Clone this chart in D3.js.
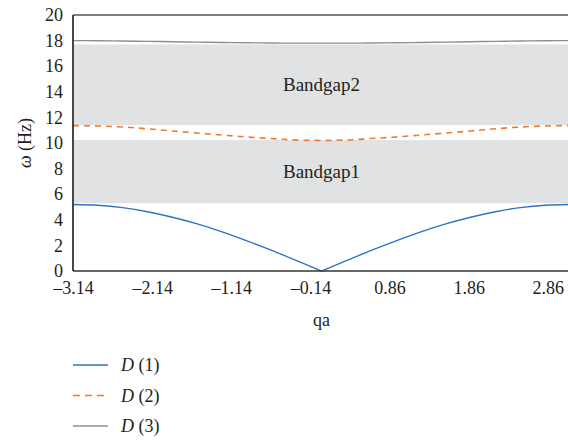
<!DOCTYPE html>
<html><head><meta charset="utf-8">
<script src="https://cdn.jsdelivr.net/npm/d3@7"></script>
<style>
html,body{margin:0;padding:0;background:#fff;}
svg text{fill:#231f20;}
</style></head>
<body><svg id="c" width="568" height="440"></svg>
<script>
const qValues = [-3.14,-2.826,-2.512,-2.198,-1.884,-1.57,-1.256,-0.942,-0.628,-0.314,0,0.314,0.628,0.942,1.256,1.57,1.884,2.198,2.512,2.826,3.14];
const d1Values = [5.2,5.14,4.95,4.63,4.2,3.68,3.06,2.36,1.61,0.81,0,0.81,1.61,2.36,3.06,3.68,4.2,4.63,4.95,5.14,5.2];
const d2Values = [11.36,11.33,11.25,11.11,10.94,10.78,10.62,10.47,10.35,10.23,10.2,10.23,10.35,10.47,10.62,10.78,10.94,11.11,11.25,11.33,11.36];
const d3Values = [18.0,17.99,17.97,17.94,17.91,17.88,17.85,17.83,17.81,17.8,17.8,17.8,17.81,17.83,17.85,17.88,17.91,17.94,17.97,17.99,18.0];
const seriesNames = ["(1)","(2)","(3)"];
const bandgaps = [{name:"Bandgap1", lo:5.3, hi:10.23},{name:"Bandgap2", lo:11.4, hi:17.7}];
const xTicks = [-3.14,-2.14,-1.14,-0.14,0.86,1.86,2.86];
const yTicks = [0,2,4,6,8,10,12,14,16,18,20];

const FONT = "Liberation Serif";
const FS = 18;
const svg = d3.select("#c");
const L=73, R=570, T=15, B=271;
const x = d3.scaleLinear().domain([-3.14,3.14]).range([L,R]);
const y = d3.scaleLinear().domain([0,20]).range([B,T]);
const fmt = v => v<0 ? "\u2013"+Math.abs(v).toFixed(2) : v.toFixed(2);

svg.selectAll("rect.band").data(bandgaps).enter().append("rect")
  .attr("x", x(-3.14)).attr("width", x(3.14)-x(-3.14))
  .attr("y", d=>y(d.hi)).attr("height", d=>y(d.lo)-y(d.hi))
  .attr("fill","#e1e2e4");
svg.selectAll("text.band").data(bandgaps).enter().append("text")
  .attr("font-family",FONT)
  .attr("x", x(0)).attr("y", d=>y((d.lo+d.hi)/2)+6)
  .attr("text-anchor","middle").attr("font-size",19).text(d=>d.name);

const series = [
  {vals:d1Values, color:"#2c74c2", dash:null, w:1.4},
  {vals:d2Values, color:"#f07a2c", dash:"6,5", w:1.6},
  {vals:d3Values, color:"#8e8e8e", dash:null, w:1.4}
];
const mid = qValues.indexOf(0);
const gen = d3.line().x(d=>x(d[0])).y(d=>y(d[1])).curve(d3.curveMonotoneX);
series.forEach((s,si)=>{
  const pts = qValues.map((q,i)=>[q,s.vals[i]]);
  const parts = si===0 ? [pts.slice(0,mid+1), pts.slice(mid)] : [pts];
  const d = parts.map(p=>gen(p)).join("");
  svg.append("path").attr("d", d).attr("fill","none")
    .attr("stroke", s.color).attr("stroke-width", s.w)
    .attr("stroke-dasharray", s.dash);
});

const xAxis = svg.append("g").attr("transform",`translate(0,${B})`)
  .call(d3.axisBottom(x).tickValues(xTicks).tickFormat(fmt).tickSize(0).tickPadding(10));
const yAxis = svg.append("g").attr("transform",`translate(${L},0)`)
  .call(d3.axisLeft(y).tickValues(yTicks).tickSize(0).tickPadding(10));
[xAxis,yAxis].forEach(g=>{
  g.attr("font-family",FONT).attr("font-size",FS);
  g.select(".domain").remove();
  g.selectAll("text").attr("fill","#231f20");
});
svg.append("line").attr("x1",L).attr("x2",R).attr("y1",B).attr("y2",B).attr("stroke","#333").attr("stroke-width",1.5);
svg.append("line").attr("x1",L).attr("x2",R).attr("y1",T).attr("y2",T).attr("stroke","#555").attr("stroke-width",1.5);
svg.append("line").attr("x1",L).attr("x2",L).attr("y1",T).attr("y2",B).attr("stroke","#333").attr("stroke-width",1.8);

svg.append("text").attr("font-family",FONT).attr("x", x(0)).attr("y", 326).attr("text-anchor","middle").attr("font-size",FS).text("qa");
const yt = svg.append("text").attr("font-family",FONT).attr("transform","translate(31,143) rotate(-90)").attr("text-anchor","middle").attr("font-size",FS);
yt.append("tspan").attr("font-style","italic").text("\u03c9");
yt.append("tspan").text(" (Hz)");

const lg = svg.selectAll("g.lg").data(series).enter().append("g")
  .attr("transform",(d,i)=>`translate(73,${365+i*30.5})`);
lg.append("line").attr("x1",0).attr("x2",35).attr("y1",0).attr("y2",0)
  .attr("stroke",d=>d.color).attr("stroke-width",1.6).attr("stroke-dasharray",d=>d.dash?"7,5":null);
const lt = lg.append("text").attr("font-family",FONT).attr("x",48).attr("y",6).attr("font-size",FS);
lt.append("tspan").attr("font-style","italic").text("D");
lt.append("tspan").text((d,i)=>" "+seriesNames[i]);
</script></body></html>
